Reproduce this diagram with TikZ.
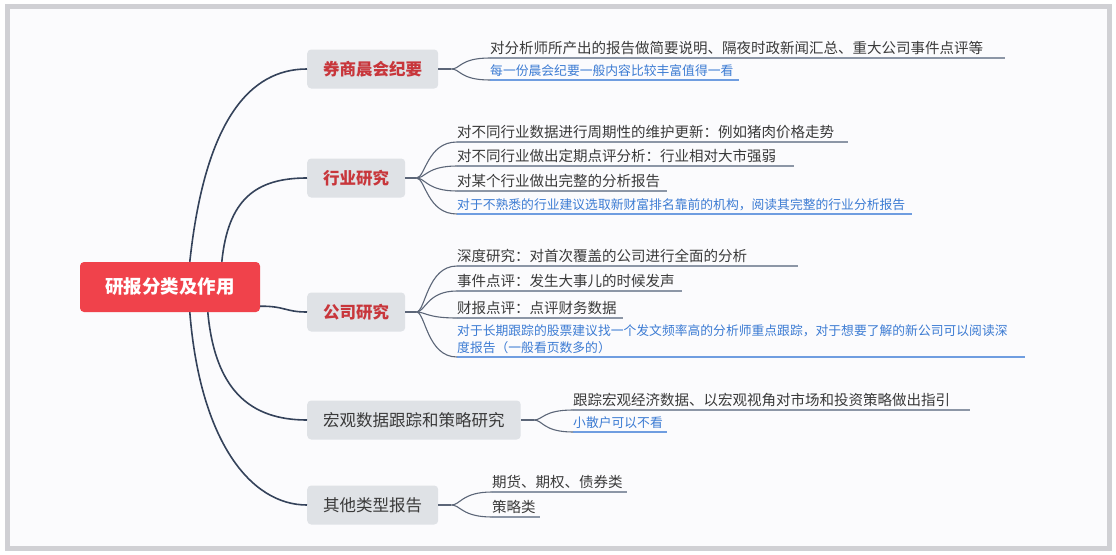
\documentclass[tikz,border=0pt]{standalone}
\usepackage{fontspec}
\newfontfamily\cjk{Noto Sans CJK SC}
\usetikzlibrary{calc}
\definecolor{rootred}{HTML}{F0424B}
\definecolor{lonefill}{HTML}{DFE2E6}
\definecolor{lonered}{HTML}{C8363B}
\definecolor{darktext}{HTML}{3A3A3A}
\definecolor{bluetext}{HTML}{3C7BD3}
\definecolor{blueline}{HTML}{6F9DE0}
\definecolor{grayline}{HTML}{8C96A6}
\definecolor{mainline}{HTML}{34425A}
\definecolor{brkline}{HTML}{5C6678}
\definecolor{framegray}{HTML}{D0D0D4}
\definecolor{bgwhite}{HTML}{FBFBFD}
\tikzset{
  rootbox/.style={fill=rootred, rounded corners=4pt, minimum width=180pt, minimum height=50pt,
    text=white, font=\cjk\bfseries\fontsize{18.5}{20}\selectfont},
  lonebox/.style={fill=lonefill, rounded corners=4pt, minimum height=39pt, inner xsep=16pt,
    anchor=west, text=darktext, font=\cjk\fontsize{16.5}{18}\selectfont},
  lonered/.style={lonebox, text=lonered, font=\cjk\bfseries\fontsize{16.5}{18}\selectfont},
  child/.style={anchor=south west, inner xsep=0pt, inner ysep=3pt, align=left,
    text=darktext, font=\cjk\fontsize{14.5}{17}\selectfont},
  bchild/.style={child, text=bluetext, font=\cjk\fontsize{12.8}{17}\selectfont},
  uline/.style={grayline, line width=1.1pt},
  buline/.style={blueline, line width=1.1pt},
  brk/.style={brkline, line width=1.1pt},
  mainc/.style={mainline, line width=1.6pt}
}
\begin{document}
\begin{tikzpicture}[x=1pt,y=-1pt]
\useasboundingbox (0,0) rectangle (1116,554);
\fill[white] (0,0) rectangle (1116,554);
\draw[framegray, line width=5pt, fill=bgwhite] (7.5,6.5) rectangle (1109,548);

% root and level-1 nodes
\node[rootbox] (root) at (170,287) {研报分类及作用};
\node[lonered] (n1) at (307,69) {券商晨会纪要};
\node[lonered] (n2) at (307,178) {行业研究};
\node[lonered] (n3) at (307,312) {公司研究};
\node[lonebox] (n4) at (307,420) {宏观数据跟踪和策略研究};
\node[lonebox] (n5) at (307,505) {其他类型报告};

% main connectors
\draw[mainc] ([xshift=110pt]root.north west) .. controls (205,120) and (250,69) .. (n1.west);
\draw[mainc] ([xshift=142pt]root.north west) .. controls (228,200) and (255,178) .. (n2.west);
\draw[mainc] ([yshift=6pt]root.south east) .. controls (285,306) and (285,312) .. (n3.west);
\draw[mainc] ([xshift=128pt]root.south west) .. controls (215,390) and (250,420) .. (n4.west);
\draw[mainc] ([xshift=110pt]root.south west) .. controls (200,440) and (250,505) .. (n5.west);

% group 1
\node[child, text width=515pt] (c11) at (490,58) {对分析师所产出的报告做简要说明、隔夜时政新闻汇总、重大公司事件点评等};
\node[bchild, text width=249pt] (c12) at (490,80) {每一份晨会纪要一般内容比较丰富值得一看};
% group 2
\node[child, text width=391pt] (c21) at (457,142) {对不同行业数据进行周期性的维护更新：例如猪肉价格走势};
\node[child, text width=337pt] (c22) at (457,166) {对不同行业做出定期点评分析：行业相对大市强弱};
\node[child, text width=210pt] (c23) at (457,191) {对某个行业做出完整的分析报告};
\node[bchild, text width=455pt] (c24) at (457,214) {对于不熟悉的行业建议选取新财富排名靠前的机构，阅读其完整的行业分析报告};
% group 3
\node[child, text width=341pt] (c31) at (457,266) {深度研究：对首次覆盖的公司进行全面的分析};
\node[child, text width=225pt] (c32) at (457,291) {事件点评：发生大事儿的时候发声};
\node[child, text width=166pt] (c33) at (457,318) {财报点评：点评财务数据};
\node[bchild, text width=568pt] (c34) at (457,357) {对于长期跟踪的股票建议找一个发文频率高的分析师重点跟踪，对于想要了解的新公司可以阅读深\\度报告（一般看页数多的）};
% group 4
\node[child, text width=397pt] (c41) at (573,410) {跟踪宏观经济数据、以宏观视角对市场和投资策略做出指引};
\node[bchild, text width=94pt] (c42) at (573,432) {小散户可以不看};
% group 5
\node[child, text width=135pt] (c51) at (492,492) {期货、期权、债券类};
\node[child, text width=48pt] (c52) at (492,517) {策略类};

% underlines
\foreach \c in {c11,c21,c22,c23,c31,c32,c33,c41,c51,c52}
  \draw[uline] (\c.south west) -- (\c.south east);
\foreach \c in {c12,c24,c34,c42}
  \draw[buline] (\c.south west) -- (\c.south east);

% brackets
\draw[brk] (n1.east) -- ++(13,0) coordinate (b1);
\draw[brk] (n2.east) -- ++(11,0) coordinate (b2);
\draw[brk] (n3.east) -- ++(11,0) coordinate (b3);
\draw[brk] (n4.east) -- ++(13,0) coordinate (b4);
\draw[brk] (n5.east) -- ++(13,0) coordinate (b5);
\foreach \b/\c in {b1/c11,b1/c12,b2/c21,b2/c22,b2/c23,b2/c24,b3/c31,b3/c32,b3/c33,b3/c34,b4/c41,b4/c42,b5/c51,b5/c52}
  \draw[brk] (\b) .. controls ($(\b)+(9,0)$) and ($(\c.south west)+(-30,0)$) .. (\c.south west);
\end{tikzpicture}
\end{document}
